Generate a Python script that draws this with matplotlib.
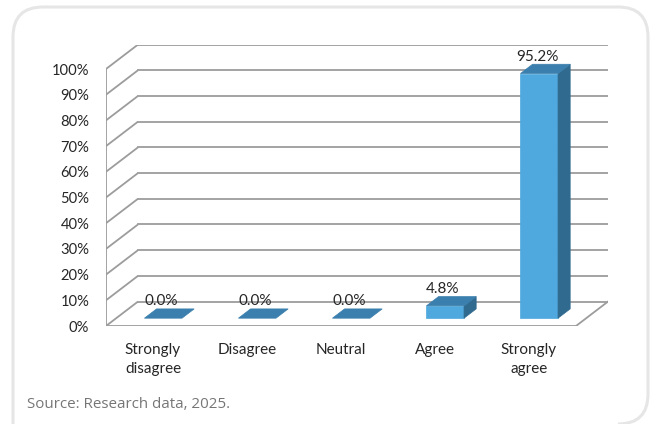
import matplotlib
matplotlib.use("Agg")
import matplotlib.pyplot as plt
from matplotlib.patches import Polygon, PathPatch
from matplotlib.path import Path

# Survey responses (% of respondents)
categories = ["Strongly\ndisagree", "Disagree", "Neutral", "Agree", "Strongly\nagree"]
values = [0.0, 0.0, 0.0, 4.8, 95.2]
value_labels = ["0.0%", "0.0%", "0.0%", "4.8%", "95.2%"]
ytick_values = [0, 10, 20, 30, 40, 50, 60, 70, 80, 90, 100]
ytick_labels = ["0%", "10%", "20%", "30%", "40%", "50%", "60%", "70%", "80%", "90%", "100%"]
source_text = "Source: Research data, 2025."

# pseudo-3D depth offsets (in data units) and bar geometry
DX = 0.34          # horizontal shift of the back wall, in category units
DY = 9.5           # vertical shift of the back wall, in percent units
F1, F2 = 0.32, 0.70  # front/back depth fraction of each bar
BAR_W = 0.40

FRONT = "#4fa8de"
TOP = "#3a7fae"
SIDE = "#306a8f"
GRID = "#9c9c9c"
FONT = ["Lato", "DejaVu Sans"]

W, H = 651, 424
fig = plt.figure(figsize=(W / 100, H / 100), dpi=100)
fig.patch.set_facecolor("white")

# background frame with rounded corners
bg = fig.add_axes([0, 0, 1, 1])
bg.set_xlim(0, W)
bg.set_ylim(H, 0)
bg.axis("off")
r = 30
L, T, R, B = 13, 7, 648, 424
verts = [(L, H + 10), (L, T + r), (L, T), (L + r, T), (R - r, T), (R, T), (R, T + r),
         (R, B - r), (R, B), (R - r, B)]
codes = [Path.MOVETO, Path.LINETO, Path.CURVE3, Path.CURVE3, Path.LINETO, Path.CURVE3,
         Path.CURVE3, Path.LINETO, Path.CURVE3, Path.CURVE3]
bg.add_patch(PathPatch(Path(verts, codes), facecolor="none", edgecolor="#e6e6e6", lw=2.2))
bg.text(27, 405, source_text, fontsize=10.9, color="#767676", va="center", ha="left",
        family=["Open Sans", "DejaVu Sans"])

# main chart axes: front plane spans x in [0, 5], y in [0, 100]
px_per_cat = 94.0
px_per_pct = 2.57
left_px, bottom_px = 106, 326
ax_w = (len(categories) + DX) * px_per_cat
ax_h = (100 + DY) * px_per_pct
ax = fig.add_axes([left_px / W, (H - bottom_px) / H, ax_w / W, ax_h / H])
ax.set_xlim(0, len(categories) + DX)
ax.set_ylim(0, 100 + DY)
ax.patch.set_alpha(0)
for s in ax.spines.values():
    s.set_visible(False)

n = len(categories)

# walls: left-side diagonals and back gridlines
for v in ytick_values:
    ax.plot([0, DX], [v, v + DY], color=GRID, lw=1.3, zorder=1, solid_capstyle="butt")
    ax.plot([DX, n + DX], [v + DY, v + DY], color=GRID, lw=1.3, zorder=1)
ax.plot([0, 0], [0, 100], color=GRID, lw=1.3, zorder=1)
# floor outline
ax.plot([0, n], [0, 0], color=GRID, lw=1.3, zorder=1)
ax.plot([n, n + DX], [0, DY], color=GRID, lw=1.3, zorder=1)

# bars
for i, v in enumerate(values):
    x0 = i + 0.5 - BAR_W / 2
    x1 = i + 0.5 + BAR_W / 2
    fx, fy = F1 * DX, F1 * DY
    bx, by = F2 * DX, F2 * DY
    if v > 0:
        ax.add_patch(Polygon([(x0 + fx, fy), (x1 + fx, fy), (x1 + fx, fy + v), (x0 + fx, fy + v)],
                             closed=True, facecolor=FRONT, edgecolor=FRONT, lw=0.5, zorder=3))
        ax.add_patch(Polygon([(x1 + fx, fy), (x1 + bx, by), (x1 + bx, by + v), (x1 + fx, fy + v)],
                             closed=True, facecolor=SIDE, edgecolor=SIDE, lw=0.5, zorder=3))
    ax.add_patch(Polygon([(x0 + fx, fy + v), (x1 + fx, fy + v), (x1 + bx, by + v), (x0 + bx, by + v)],
                         closed=True, facecolor=TOP, edgecolor=TOP, lw=0.5, zorder=4))
    ax.text(i + 0.585, v + by + 3.0, value_labels[i], ha="center", va="center",
            fontsize=11, color="#262626", family=FONT, zorder=5)

# axis labels
ax.set_yticks(ytick_values)
ax.set_yticklabels(ytick_labels, family=FONT, fontsize=10.6, color="#262626")
ax.set_xticks([i + 0.5 for i in range(n)])
ax.set_xticklabels(categories, family=FONT, fontsize=11, color="#262626", linespacing=1.45)
ax.tick_params(axis="y", length=0, pad=12)
ax.tick_params(axis="x", length=0, pad=12)

fig.savefig("out.png", dpi=100, facecolor="white")
